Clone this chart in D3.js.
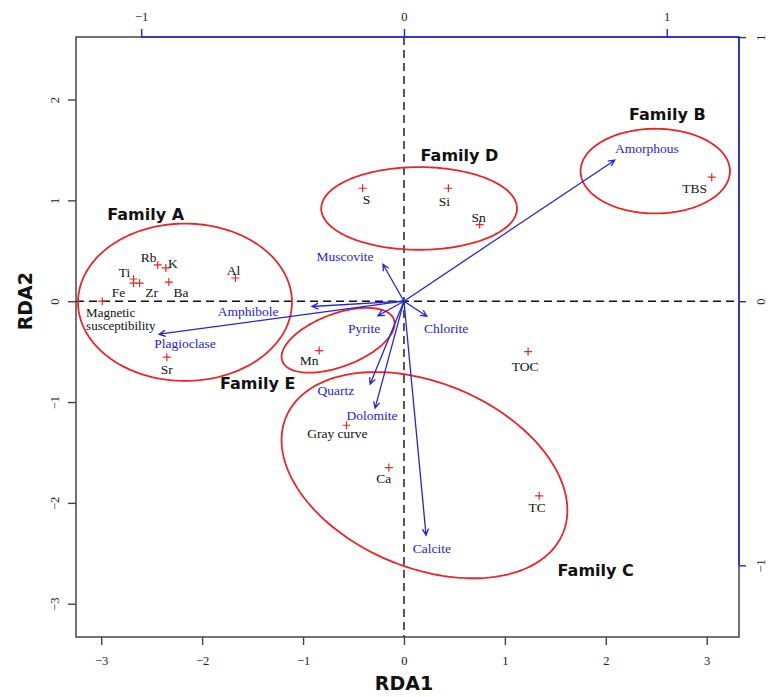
<!DOCTYPE html>
<html>
<head>
<meta charset="utf-8">
<script src="https://cdn.jsdelivr.net/npm/d3@7"></script>
<style>
  html, body { margin: 0; padding: 0; background: #fff; }
  svg { display: block; }
</style>
</head>
<body>
<svg id="chart" width="772" height="697"></svg>
<script>
// ---------------- data ----------------
const xTicks = [-3, -2, -1, 0, 1, 2, 3];
const yTicks = [-3, -2, -1, 0, 1, 2];
const topTicks = [-1, 0, 1];
const rightTicks = [-1, 0, 1];

// response variables (red crosses), RDA1 / RDA2 scores
const siteNames = ["TBS", "S", "Si", "Sn", "Rb", "K", "Ti", "Fe", "Zr", "Ba", "Al",
  "Magnetic\nsusceptibility", "Sr", "Mn", "TOC", "Gray curve", "Ca", "TC"];
const siteX = [3.05, -0.41, 0.44, 0.75, -2.44, -2.36, -2.68, -2.68, -2.62, -2.33, -1.67,
  -2.99, -2.35, -0.84, 1.23, -0.57, -0.15, 1.34];
const siteY = [1.23, 1.12, 1.12, 0.76, 0.36, 0.33, 0.22, 0.18, 0.18, 0.19, 0.23,
  0.00, -0.555, -0.49, -0.50, -1.23, -1.65, -1.93];
const siteLabelX = [2.88, -0.37, 0.40, 0.74, -2.53, -2.29, -2.77, -2.83, -2.50, -2.21, -1.69,
  -3.15, -2.35, -0.94, 1.20, -0.66, -0.20, 1.32];
const siteLabelY = [1.12, 1.01, 0.99, 0.83, 0.44, 0.38, 0.29, 0.09, 0.09, 0.09, 0.31,
  -0.11, -0.68, -0.585, -0.645, -1.31, -1.76, -2.04];

// explanatory variables (blue arrows), biplot scores on top/right axes
const mineralNames = ["Amorphous", "Muscovite", "Chlorite", "Pyrite", "Amphibole",
  "Plagioclase", "Quartz", "Dolomite", "Calcite"];
const mineralX = [0.802, -0.080, 0.087, -0.099, -0.350, -0.932, -0.129, -0.110, 0.084];
const mineralY = [0.534, 0.140, -0.057, -0.055, -0.020, -0.125, -0.314, -0.405, -0.886];
const mineralLabelX = [0.924, -0.224, 0.160, -0.152, -0.593, -0.833, -0.259, -0.122, 0.106];
const mineralLabelY = [0.580, 0.170, -0.102, -0.102, -0.038, -0.159, -0.337, -0.432, -0.936];

// families (red ellipses)
const familyNames = ["Family A", "Family B", "Family C", "Family D", "Family E"];
const familyCX = [-2.17, 2.49, 0.203, 0.15, -0.653];
const familyCY = [-0.01, 1.29, -1.725, 0.92, -0.387];
const familyA = [1.06, 0.74, 1.488, 0.97, 0.59];
const familyB = [0.78, 0.42, 0.915, 0.41, 0.262];
const familyAngle = [0, 0, -22.9, 0, 20.6];
const familyLabelX = [-2.56, 2.61, 1.90, 0.55, -1.45];
const familyLabelY = [0.86, 1.85, -2.67, 1.45, -0.81];

// ---------------- layout ----------------
const L = 76, R = 739, T = 37, B = 637;
const xDomain = [-3.25, 3.32], yDomain = [-3.33, 2.62];
const kx = 2.604, ky = 2.619;  // ratio between main and biplot axis units

const x = d3.scaleLinear().domain(xDomain).range([L, R]);
const y = d3.scaleLinear().domain(yDomain).range([B, T]);
const xb = d3.scaleLinear().domain([xDomain[0] / kx, xDomain[1] / kx]).range([L, R]);
const yb = d3.scaleLinear().domain([yDomain[0] / ky, yDomain[1] / ky]).range([B, T]);

const RED = "#e8262a";
const BLUE = "#2424d8";
const SERIF = "'Liberation Serif', 'Times New Roman', serif";
const SANS = "'DejaVu Sans', Verdana, sans-serif";

const svg = d3.select("#chart");

// dashed zero lines
svg.append("line").attr("x1", x(0)).attr("x2", x(0)).attr("y1", T).attr("y2", B)
  .attr("stroke", "#111").attr("stroke-width", 1.4).attr("stroke-dasharray", "8,5");
svg.append("line").attr("x1", L).attr("x2", R).attr("y1", y(0)).attr("y2", y(0))
  .attr("stroke", "#111").attr("stroke-width", 1.4).attr("stroke-dasharray", "8,5");

// ellipses
const ellLine = d3.line().x(d => x(d[0])).y(d => y(d[1])).curve(d3.curveLinearClosed);
familyNames.forEach((name, i) => {
  const th = familyAngle[i] * Math.PI / 180;
  const pts = d3.range(0, 360, 2).map(deg => {
    const t = deg * Math.PI / 180;
    const ex = familyA[i] * Math.cos(t), ey = familyB[i] * Math.sin(t);
    return [familyCX[i] + ex * Math.cos(th) - ey * Math.sin(th),
            familyCY[i] + ex * Math.sin(th) + ey * Math.cos(th)];
  });
  svg.append("path").attr("d", ellLine(pts)).attr("fill", "none")
    .attr("stroke", RED).attr("stroke-width", 1.8);
  svg.append("text").attr("x", x(familyLabelX[i])).attr("y", y(familyLabelY[i]))
    .attr("dy", "0.36em").attr("text-anchor", "middle")
    .attr("font-family", SANS).attr("font-weight", "bold").attr("font-size", 16)
    .attr("fill", "#111").text(name);
});

// arrows
mineralNames.forEach((name, i) => {
  const x0 = xb(0), y0 = yb(0), x1 = xb(mineralX[i]), y1 = yb(mineralY[i]);
  const ang = Math.atan2(y1 - y0, x1 - x0);
  const hl = 7, ha = 0.45;
  const h1 = [x1 - hl * Math.cos(ang - ha), y1 - hl * Math.sin(ang - ha)];
  const h2 = [x1 - hl * Math.cos(ang + ha), y1 - hl * Math.sin(ang + ha)];
  svg.append("path")
    .attr("d", `M${x0},${y0}L${x1},${y1}M${h1[0]},${h1[1]}L${x1},${y1}L${h2[0]},${h2[1]}`)
    .attr("fill", "none").attr("stroke", BLUE).attr("stroke-width", 1.3);
  svg.append("text").attr("x", xb(mineralLabelX[i])).attr("y", yb(mineralLabelY[i]))
    .attr("dy", "0.35em").attr("text-anchor", "middle")
    .attr("font-family", SERIF).attr("font-size", 13.5).attr("fill", BLUE).text(name);
});

// red crosses + black labels
siteNames.forEach((name, i) => {
  const px = x(siteX[i]), py = y(siteY[i]);
  svg.append("path").attr("d", `M${px - 4},${py}H${px + 4}M${px},${py - 4}V${py + 4}`)
    .attr("stroke", RED).attr("stroke-width", 1.2);
  const lines = name.split("\n");
  if (lines.length > 1) {
    lines.forEach((ln, j) => {
      svg.append("text").attr("x", x(siteLabelX[i])).attr("y", y(siteLabelY[i]) + j * 13)
        .attr("dy", "0.35em").attr("text-anchor", "start")
        .attr("font-family", SERIF).attr("font-size", 13).attr("fill", "#111").text(ln);
    });
  } else {
    svg.append("text").attr("x", x(siteLabelX[i])).attr("y", y(siteLabelY[i]))
      .attr("dy", "0.35em").attr("text-anchor", "middle")
      .attr("font-family", SERIF).attr("font-size", 13.5).attr("fill", "#111").text(name);
  }
});

// box
svg.append("rect").attr("x", L).attr("y", T).attr("width", R - L).attr("height", B - T)
  .attr("fill", "none").attr("stroke", "#444").attr("stroke-width", 1.5);

// main axes
const styleAxis = (g, color) => {
  g.select(".domain").remove();
  g.selectAll(".tick line").attr("stroke", color).attr("stroke-width", 1.4);
  g.selectAll(".tick text").attr("font-family", SERIF).attr("font-size", 12.5).attr("fill", "#222");
};
const gx = svg.append("g").attr("transform", `translate(0,${B})`)
  .call(d3.axisBottom(x).tickValues(xTicks).tickSize(8).tickFormat(d3.format("d")));
styleAxis(gx, "#444");
gx.selectAll(".tick text").attr("y", 19);

const gy = svg.append("g").attr("transform", `translate(${L},0)`)
  .call(d3.axisLeft(y).tickValues(yTicks).tickSize(8).tickFormat(d3.format("d")));
styleAxis(gy, "#444");
gy.selectAll(".tick text").attr("x", 0).attr("dy", "0.35em").attr("text-anchor", "middle")
  .attr("transform", "translate(-21,0) rotate(-90)");

// biplot axes (blue)
svg.append("line").attr("x1", xb(-1)).attr("x2", R + 0.5).attr("y1", T).attr("y2", T)
  .attr("stroke", BLUE).attr("stroke-width", 1.5);
svg.append("line").attr("x1", R).attr("x2", R).attr("y1", T).attr("y2", yb(-1))
  .attr("stroke", BLUE).attr("stroke-width", 1.5);

const gt = svg.append("g").attr("transform", `translate(0,${T})`)
  .call(d3.axisTop(xb).tickValues(topTicks).tickSize(8).tickFormat(d3.format("d")));
styleAxis(gt, BLUE);
gt.selectAll(".tick text").attr("y", -16);

const gr = svg.append("g").attr("transform", `translate(${R},0)`)
  .call(d3.axisRight(yb).tickValues(rightTicks).tickSize(7).tickFormat(d3.format("d")));
styleAxis(gr, BLUE);
gr.selectAll(".tick text").attr("x", 0).attr("dy", "0.35em").attr("text-anchor", "middle")
  .attr("transform", "translate(22,0) rotate(-90)");

// axis titles
svg.append("text").attr("x", x(0)).attr("y", 690).attr("text-anchor", "middle")
  .attr("font-family", SANS).attr("font-weight", "bold").attr("font-size", 19)
  .attr("fill", "#111").text("RDA1");
svg.append("text").attr("transform", `translate(32,${y(0)}) rotate(-90)`)
  .attr("text-anchor", "middle")
  .attr("font-family", SANS).attr("font-weight", "bold").attr("font-size", 19)
  .attr("fill", "#111").text("RDA2");
</script>
</body>
</html>
